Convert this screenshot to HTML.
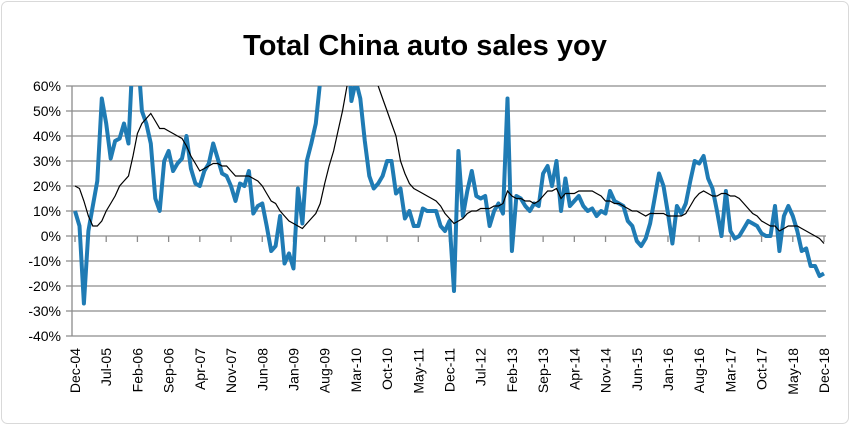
<!DOCTYPE html>
<html><head><meta charset="utf-8"><style>
html,body{margin:0;padding:0;background:#fff;}
svg{display:block;font-family:"Liberation Sans",sans-serif;}
</style></head><body>
<svg id="chart" width="850" height="425">
<rect x="1.5" y="1.5" width="847" height="422" rx="6" fill="#fff" stroke="#d9d9d9"/>
<text x="425" y="55" text-anchor="middle" font-size="29" font-weight="bold" fill="#000">Total China auto sales yoy</text>
<defs><clipPath id="pc"><rect x="72" y="86" width="760" height="250"/></clipPath></defs>
<g id="grid"></g><g id="ylab"></g><g id="xlab"></g>
<g clip-path="url(#pc)"><path id="blue" fill="none" stroke="#1f7bb4" stroke-width="4" stroke-linejoin="round"/>
<path id="black" fill="none" stroke="#000" stroke-width="1.2"/></g>
</svg>
<script>
const yTicks=[60,50,40,30,20,10,0,-10,-20,-30,-40];
const xLabels=["Dec-04","Jul-05","Feb-06","Sep-06","Apr-07","Nov-07","Jun-08","Jan-09","Aug-09","Mar-10","Oct-10","May-11","Dec-11","Jul-12","Feb-13","Sep-13","Apr-14","Nov-14","Jun-15","Jan-16","Aug-16","Mar-17","Oct-17","May-18","Dec-18"];
const monthly=[10,4,-27,2,12,22,55,45,31,38,39,45,37,75,75,50,45,37,15,10,30,34,26,29,31,40,27,21,20,26,29,37,31,25,24,20,14,21,20,26,9,12,13,4,-6,-4,8,-11,-7,-13,19,5,30,37,45,62,75,85,90,100,110,80,54,62,55,38,24,19,21,24,30,30,17,19,7,10,4,4,11,10,10,10,4,2,6,-22,34,8,18,26,16,15,16,4,10,13,9,55,-6,16,15,12,10,13,12,25,28,20,30,10,23,12,14,16,12,10,11,8,10,9,18,14,13,12,6,4,-2,-4,-1,5,15,25,20,9,-3,12,9,13,22,30,29,32,23,19,10,0,18,2,-1,0,3,6,5,4,1,0,0,12,-6,8,12,8,2,-6,-5,-12,-12,-16,-15];
const average=[20,19,14,8,4,4,6,10,13,16,20,22,24,32,41,45,47,49,46,43,43,42,41,40,39,36,32,29,26,27,28,29,29,28,28,26,24,24,24,24,23,22,20,17,14,13,10,8,6,5,4,3,5,7,9,13,21,28,34,42,50,60,75,80,80,75,68,62,60,55,50,45,40,30,25,21,19,18,17,16,15,14,12,9,7,5,6,7,9,10,10,11,11,11,12,12,13,18,16,15,15,14,14,13,14,16,18,18,19,15,17,17,17,18,18,18,18,17,16,14,14,13,13,12,11,10,10,9,8,9,9,9,9,8,8,8,8,9,12,15,17,18,17,16,16,17,17,16,16,15,13,11,9,8,6,5,4,4,2,3,4,4,4,3,2,1,0,-1,-3];
const NS="http://www.w3.org/2000/svg";
const X0=75,X1=824,Y0=86,Y1=336;
function xs(i){return X0+(X1-X0)*i/(monthly.length-1);}
function ys(v){return Y1-(v+40)/100*(Y1-Y0);}
const grid=document.getElementById('grid'),yl=document.getElementById('ylab'),xl=document.getElementById('xlab');
yTicks.forEach(t=>{
  const l=document.createElementNS(NS,'line');
  
  
  l.setAttribute('x1',66);l.setAttribute('x2',826);l.setAttribute('y1',ys(t));l.setAttribute('y2',ys(t));
  l.setAttribute('stroke','#8c8c8c');l.setAttribute('stroke-width','1.3');grid.appendChild(l);
  const tx=document.createElementNS(NS,'text');
  
  
  tx.setAttribute('x',61);tx.setAttribute('y',ys(t)+5);tx.setAttribute('text-anchor','end');tx.setAttribute('font-size','14');
  tx.textContent=t+'%';yl.appendChild(tx);
});
const ax=document.createElementNS(NS,'line');


ax.setAttribute('x1',72);ax.setAttribute('x2',72);ax.setAttribute('y1',Y0);ax.setAttribute('y2',Y1);
ax.setAttribute('stroke','#8c8c8c');ax.setAttribute('stroke-width','1.3');grid.appendChild(ax);
xLabels.forEach((s,k)=>{
  const i=k*7,x=xs(i);
  const tk=document.createElementNS(NS,'line');
  
  
  tk.setAttribute('x1',x);tk.setAttribute('x2',x);tk.setAttribute('y1',ys(0));tk.setAttribute('y2',ys(0)+6);
  tk.setAttribute('stroke','#8c8c8c');tk.setAttribute('stroke-width','1.3');grid.appendChild(tk);
  const tx=document.createElementNS(NS,'text');
  
  
  tx.setAttribute('transform','translate('+(x+5)+',348) rotate(-90)');tx.setAttribute('text-anchor','end');tx.setAttribute('font-size','14');
  tx.textContent=s;xl.appendChild(tx);
});
function path(a){return a.map((v,i)=>(i?'L':'M')+xs(i).toFixed(1)+' '+ys(v).toFixed(1)).join('');}
document.getElementById('blue').setAttribute('d',path(monthly));
document.getElementById('black').setAttribute('d',path(average));
</script>
</body></html>
